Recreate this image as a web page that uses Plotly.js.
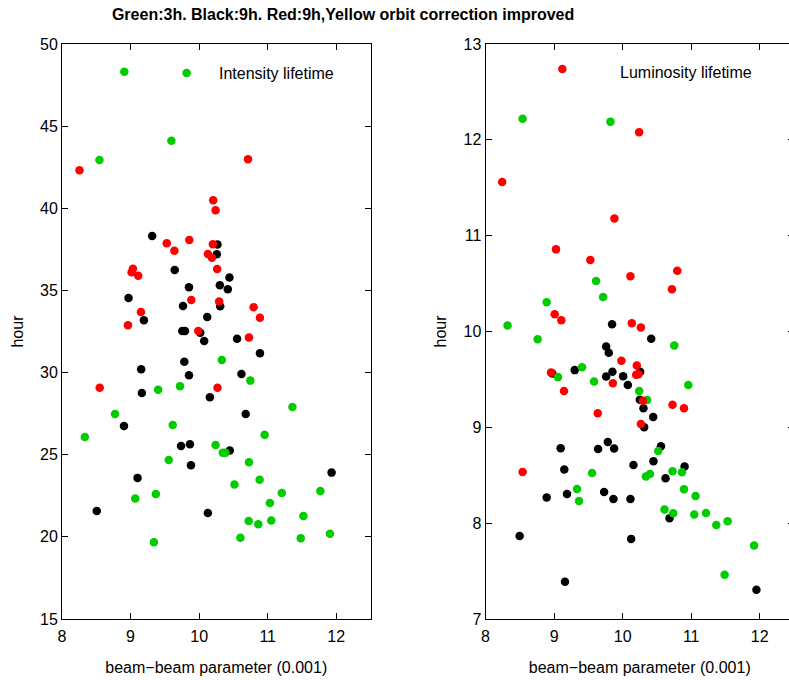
<!DOCTYPE html>
<html>
<head>
<meta charset="utf-8">
<script src="https://cdn.plot.ly/plotly-3.0.1.min.js"></script>
<style>
  html, body { margin: 0; padding: 0; overflow: hidden; background: #fff; }
  #chart { width: 800px; height: 680px; }
</style>
</head>
<body>
<div id="chart"></div>
<script>
// Beam lifetime vs beam-beam parameter (units of 0.001), three store sets.

// Intensity lifetime (hours)
const greenIntX = [8.909, 9.818, 9.595, 8.546, 10.331, 10.747, 9.402, 9.721, 8.773, 11.361, 9.615, 8.333, 10.955, 10.24, 10.345, 10.384, 9.557, 10.727, 10.882, 10.515, 11.206, 11.768, 9.068, 9.368, 11.032, 10.723, 10.863, 11.052, 11.521, 10.602, 11.482, 11.908, 9.34];
const greenIntY = [48.31, 48.23, 44.11, 42.94, 30.77, 29.51, 28.96, 29.17, 27.48, 27.91, 26.81, 26.08, 26.22, 25.59, 25.12, 25.12, 24.68, 24.54, 23.48, 23.18, 22.67, 22.79, 22.33, 22.61, 22.06, 20.97, 20.77, 20.99, 21.27, 19.95, 19.91, 20.19, 19.67];

const blackIntX = [9.315, 10.268, 10.258, 9.644, 10.442, 10.302, 10.418, 9.852, 8.971, 10.307, 9.765, 9.194, 10.118, 9.755, 9.794, 10.016, 10.074, 10.553, 10.887, 9.784, 9.155, 10.617, 9.852, 9.165, 10.157, 10.679, 8.904, 9.736, 9.866, 10.447, 9.881, 9.102, 11.932, 8.507, 10.128];
const blackIntY = [38.31, 37.79, 37.2, 36.24, 35.78, 35.31, 35.07, 35.19, 34.54, 34.04, 34.05, 33.18, 33.38, 32.53, 32.53, 32.43, 31.92, 32.06, 31.17, 30.66, 30.2, 29.91, 29.83, 28.76, 28.5, 27.48, 26.75, 25.53, 25.64, 25.25, 24.36, 23.59, 23.91, 21.58, 21.45];

const redIntX = [8.255, 10.713, 10.205, 10.24, 9.528, 9.857, 9.639, 10.2, 10.128, 10.186, 10.263, 9.035, 9.015, 9.112, 9.886, 10.292, 9.151, 10.795, 10.887, 8.962, 9.987, 10.727, 8.55, 10.268];
const redIntY = [42.31, 42.98, 40.49, 39.88, 37.87, 38.07, 37.42, 37.81, 37.22, 36.99, 36.31, 36.32, 36.1, 35.9, 34.42, 34.32, 33.69, 33.97, 33.34, 32.88, 32.53, 32.13, 29.08, 29.08];

// Luminosity lifetime (hours)
const greenLumX = [8.541, 9.822, 9.613, 9.715, 8.892, 8.321, 8.76, 10.753, 9.408, 9.057, 9.583, 10.958, 10.241, 10.358, 10.519, 9.554, 10.728, 10.865, 10.339, 10.398, 9.335, 9.364, 10.895, 11.064, 10.611, 10.738, 11.045, 11.216, 11.367, 11.532, 11.918, 11.488];
const greenLumY = [12.22, 12.19, 10.528, 10.361, 10.305, 10.063, 9.92, 9.854, 9.628, 9.524, 9.479, 9.441, 9.378, 9.285, 8.753, 8.524, 8.542, 8.531, 8.486, 8.514, 8.357, 8.232, 8.354, 8.284, 8.143, 8.104, 8.091, 8.107, 7.982, 8.021, 7.768, 7.461];

const blackLumX = [9.846, 10.417, 9.759, 9.798, 9.301, 10.256, 8.974, 9.851, 9.759, 10.007, 10.076, 10.251, 10.304, 10.446, 10.314, 9.096, 9.784, 9.642, 9.876, 10.559, 9.149, 10.158, 10.45, 10.904, 10.626, 8.892, 9.189, 9.73, 9.866, 10.114, 10.684, 8.497, 10.124, 9.159, 11.952];
const blackLumY = [10.076, 9.924, 9.844, 9.778, 9.597, 9.58, 9.563, 9.58, 9.531, 9.534, 9.441, 9.288, 9.198, 9.107, 9.0, 8.781, 8.847, 8.774, 8.778, 8.802, 8.559, 8.607, 8.646, 8.591, 8.469, 8.268, 8.305, 8.326, 8.253, 8.253, 8.052, 7.865, 7.836, 7.389, 7.305];

const redLumX = [9.12, 8.243, 10.241, 9.88, 9.028, 9.529, 10.114, 10.797, 10.719, 9.009, 9.105, 10.134, 10.266, 9.982, 10.207, 10.197, 10.231, 8.955, 9.857, 9.145, 10.295, 10.728, 10.895, 9.637, 10.266, 8.541];
const redLumY = [12.74, 11.56, 12.08, 11.18, 10.857, 10.747, 10.576, 10.635, 10.44, 10.18, 10.118, 10.087, 10.042, 9.695, 9.646, 9.549, 9.555, 9.573, 9.461, 9.378, 9.278, 9.236, 9.198, 9.146, 9.034, 8.534];

const xTicks = [8, 9, 10, 11, 12];
const intTicks = [15, 20, 25, 30, 35, 40, 45, 50];
const lumTicks = [7, 8, 9, 10, 11, 12, 13];

const GREEN = '#00cc00', BLACK = '#000000', RED = '#ff0000';
const FONT = 'Liberation Sans, Arial, Helvetica, sans-serif';

function dots(x, y, color, xa, ya) {
  return {
    type: 'scatter', mode: 'markers', x: x, y: y,
    xaxis: xa, yaxis: ya, showlegend: false, hoverinfo: 'skip',
    marker: { color: color, size: 8.5, line: { width: 0 } }
  };
}

const data = [
  dots(blackIntX, blackIntY, BLACK, 'x', 'y'),
  dots(greenIntX, greenIntY, GREEN, 'x', 'y'),
  dots(redIntX, redIntY, RED, 'x', 'y'),
  dots(blackLumX, blackLumY, BLACK, 'x2', 'y2'),
  dots(greenLumX, greenLumY, GREEN, 'x2', 'y2'),
  dots(redLumX, redLumY, RED, 'x2', 'y2')
];

const axisBase = {
  showline: true, linecolor: '#000', linewidth: 1, mirror: 'allticks',
  ticks: 'inside', ticklen: 6, tickwidth: 1, tickcolor: '#000',
  showgrid: false, zeroline: false,
  tickfont: { family: FONT, size: 16, color: '#000' }
};

function xAxis(domain, anchor) {
  return Object.assign({}, axisBase, {
    domain: domain, anchor: anchor, range: [8, 12.5],
    tickmode: 'array', tickvals: xTicks, ticktext: xTicks.map(String),
    ticklabelstandoff: 3,
    title: { text: 'beam\u2212beam parameter (0.001)', font: { family: FONT, size: 16, color: '#000' }, standoff: 17 }
  });
}

function yAxis(domain, anchor, range, ticks) {
  return Object.assign({}, axisBase, {
    domain: domain, anchor: anchor, range: range,
    tickmode: 'array', tickvals: ticks, ticktext: ticks.map(String),
    title: { text: 'hour', font: { family: FONT, size: 16, color: '#000' }, standoff: 12 }
  });
}

const layout = {
  width: 800, height: 680,
  margin: { l: 62, r: 6, t: 44, b: 61 },
  paper_bgcolor: '#fff', plot_bgcolor: '#fff',
  font: { family: FONT, size: 16, color: '#000' },
  title: {
    text: '<b>Green:3h. Black:9h. Red:9h,Yellow orbit correction improved</b>',
    font: { family: FONT, size: 16, color: '#000' },
    xref: 'paper', x: 0.384, xanchor: 'center',
    yref: 'container', y: 0.979, yanchor: 'middle'
  },
  xaxis: xAxis([0, 0.4215], 'y'),
  yaxis: yAxis([0, 1], 'x', [15, 50], intTicks),
  xaxis2: xAxis([0.5786, 1], 'y2'),
  yaxis2: yAxis([0, 1], 'x2', [7, 13], lumTicks),
  annotations: [
    { text: 'Intensity lifetime', xref: 'x', yref: 'y', x: 10.258, y: 48.23,
      xanchor: 'left', yanchor: 'middle', showarrow: false,
      font: { family: FONT, size: 16, color: '#000' } },
    { text: 'Luminosity lifetime', xref: 'x2', yref: 'y2', x: 9.934, y: 12.70,
      xanchor: 'left', yanchor: 'middle', showarrow: false,
      font: { family: FONT, size: 16, color: '#000' } }
  ],
  showlegend: false,
  hovermode: false
};

Plotly.newPlot('chart', data, layout, { staticPlot: true, displayModeBar: false });
</script>
</body>
</html>
